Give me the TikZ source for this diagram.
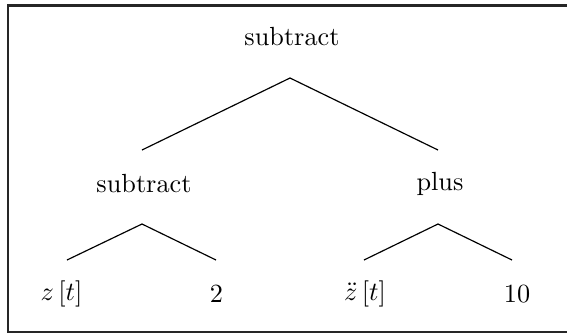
\documentclass[tikz,border=0pt]{standalone}
\usetikzlibrary{calc}
\begin{document}
\begin{tikzpicture}[x=0.381pt,y=-0.381pt,
  lbl/.style={inner sep=0pt,anchor=center},
  edge/.style={line width=0.45pt,draw=black},
  frame/.style={line width=1pt,draw=black!85}]
\useasboundingbox (0,0) rectangle (567,334);
\clip (0,0) rectangle (567,334);
\draw[frame] (575,5.5) -- (8,5.5) -- (8,332) -- (575,332);
% nodes
\node[lbl] (root) at (292,37) {subtract};
\node[lbl] (ms) at (144,184) {subtract};
\node[lbl] (pl) at (440,184) {plus};
\node[lbl] (zt) at (61.5,294) {$z\,[t]$};
\node[lbl] (two) at (216.5,294) {$2$};
\node[lbl] (zdd) at (365,294) {$\ddot{z}\,[t]$};
\node[lbl] (ten) at (517,294) {$10$};
% connectors
\draw[edge] ($(root)+(-2,41)$) -- ($(ms)+(-2,-34)$);
\draw[edge] ($(root)+(-2,41)$) -- ($(pl)+(-2,-34)$);
\draw[edge] ($(ms)+(-2,40)$) -- ($(zt)+(5.5,-34)$);
\draw[edge] ($(ms)+(-2,40)$) -- ($(two)+(-0.5,-34)$);
\draw[edge] ($(pl)+(-2,40)$) -- ($(zdd)+(-1,-34)$);
\draw[edge] ($(pl)+(-2,40)$) -- ($(ten)+(-5,-34)$);
\end{tikzpicture}
\end{document}
